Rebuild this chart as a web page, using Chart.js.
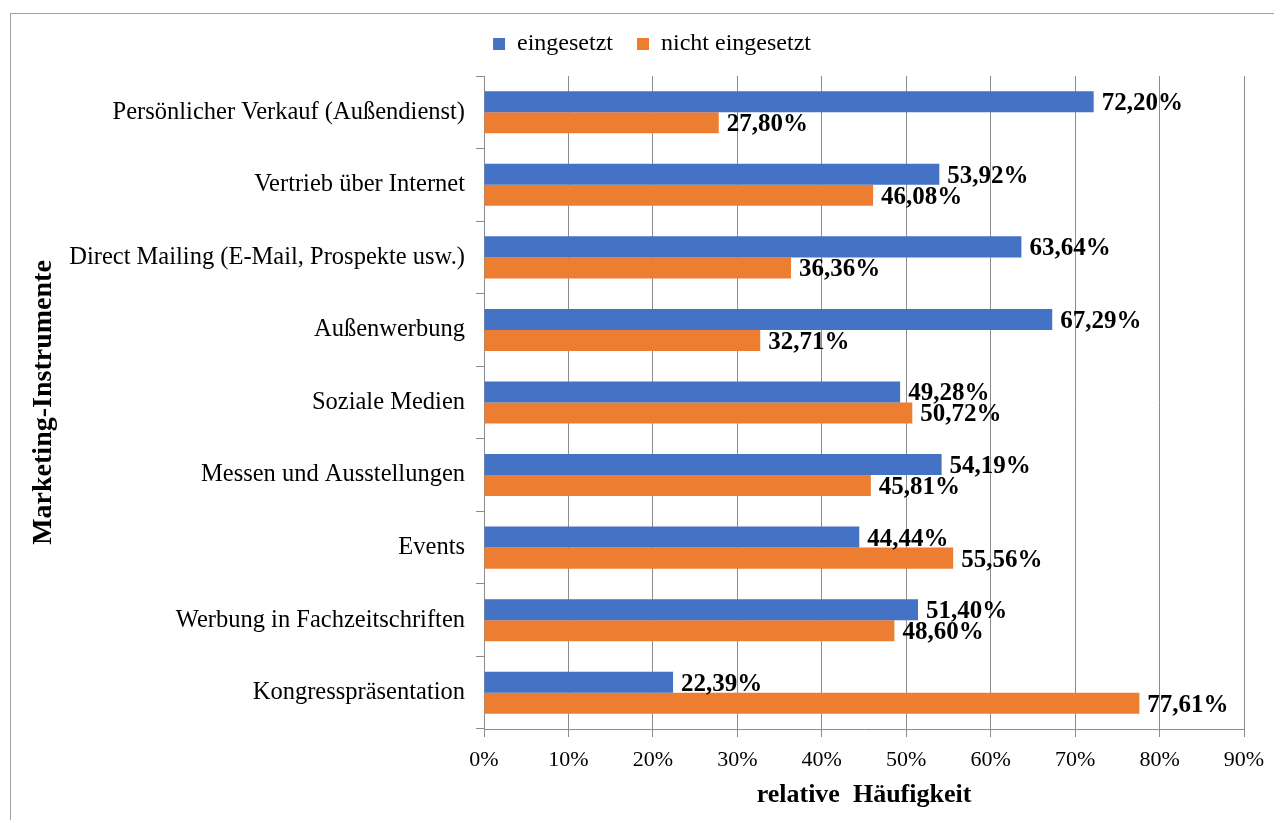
<!DOCTYPE html>
<html>
<head>
<meta charset="utf-8">
<script src="https://cdn.jsdelivr.net/npm/chart.js@4"></script>
<style>
  body { margin: 0; background: #fff; }
  #frame { position: absolute; left: 10px; top: 13px; width: 1300px; height: 900px;
           border-left: 1px solid #a0a0a0; border-top: 1px solid #a0a0a0; }
  #myChart { position: absolute; left: 0; top: 0; }
</style>
</head>
<body>
<div id="frame"></div>
<canvas id="myChart" width="1274" height="820"></canvas>
<script>
const categories = [
  'Persönlicher Verkauf (Außendienst)',
  'Vertrieb über Internet',
  'Direct Mailing (E-Mail, Prospekte usw.)',
  'Außenwerbung',
  'Soziale Medien',
  'Messen und Ausstellungen',
  'Events',
  'Werbung in Fachzeitschriften',
  'Kongresspräsentation'
];
const eingesetzt = [72.20, 53.92, 63.64, 67.29, 49.28, 54.19, 44.44, 51.40, 22.39];
const nichtEingesetzt = [27.80, 46.08, 36.36, 32.71, 50.72, 45.81, 55.56, 48.60, 77.61];
const xMax = 90;
const xStep = 10;

const serif = '"Liberation Serif", "Times New Roman", serif';
const gridGray = '#8c8c8c';
Chart.defaults.font.family = serif;
Chart.defaults.color = '#000';

// value labels at the end of each bar
const barLabels = {
  id: 'barLabels',
  afterDatasetsDraw(chart) {
    const ctx = chart.ctx;
    ctx.save();
    ctx.font = 'bold 25px ' + serif;
    ctx.fillStyle = '#000';
    ctx.textAlign = 'left';
    ctx.textBaseline = 'middle';
    chart.data.datasets.forEach((ds, i) => {
      chart.getDatasetMeta(i).data.forEach((bar, j) => {
        ctx.fillText(ds.data[j].toFixed(2).replace('.', ',') + '%', bar.x + 8, bar.y + 2);
      });
    });
    ctx.restore();
  }
};

// fixed legend height, and legend centred a bit right of the canvas centre
const legendPlace = {
  id: 'legendPlace',
  beforeLayout(chart) {
    const lg = chart.legend;
    if (lg && !lg._fixed) {
      const fit = lg.fit;
      lg.fit = function () { fit.call(this); this.height = 68; };
      lg._fixed = true;
    }
  },
  afterLayout(chart) {
    if (chart.legend) {
      chart.legend.left += 30;
      chart.legend.right += 30;
    }
  }
};

const ctx = document.getElementById('myChart').getContext('2d');
const myChart = new Chart(ctx, {
  type: 'bar',
  data: {
    labels: categories,
    datasets: [{
      label: 'eingesetzt',
      data: eingesetzt,
      backgroundColor: '#4472C4',
      borderWidth: 0
    }, {
      label: 'nicht eingesetzt',
      data: nichtEingesetzt,
      backgroundColor: '#ED7D31',
      borderWidth: 0
    }]
  },
  options: {
    indexAxis: 'y',
    responsive: false,
    animation: false,
    categoryPercentage: 0.58,
    barPercentage: 1.0,
    layout: { padding: { left: 0, right: 30, top: 8, bottom: 0 } },
    plugins: {
      legend: {
        position: 'top',
        labels: {
          boxWidth: 12, boxHeight: 12, padding: 24, color: '#000',
          font: { family: serif, size: 24 }
        }
      },
      tooltip: { enabled: false }
    },
    scales: {
      x: {
        min: 0,
        max: xMax,
        ticks: {
          stepSize: xStep,
          padding: 10,
          font: { family: serif, size: 22 },
          callback: v => v + '%'
        },
        grid: { color: gridGray, tickLength: 8, drawTicks: true },
        border: { display: true, color: gridGray },
        title: {
          display: true,
          text: 'relative  Häufigkeit',
          font: { family: serif, size: 26, weight: 'bold' },
          padding: { top: 0, bottom: 9 }
        },
        afterFit(scale) {
          scale.height = 91;
          scale.paddingLeft = 0;
          scale.paddingRight = 0;
        }
      },
      y: {
        ticks: { padding: 11, font: { family: serif, size: 24.5 } },
        grid: { color: gridGray, drawOnChartArea: false, tickLength: 8, offset: true },
        border: { display: true, color: gridGray },
        title: {
          display: true,
          text: 'Marketing-Instrumente',
          font: { family: serif, size: 28, weight: 'bold' },
          padding: { top: 27, bottom: 0 }
        },
        afterFit(scale) {
          scale.width = 484;
          scale.paddingTop = 0;
          scale.paddingBottom = 0;
        }
      }
    }
  },
  plugins: [barLabels, legendPlace]
});
</script>
</body>
</html>
